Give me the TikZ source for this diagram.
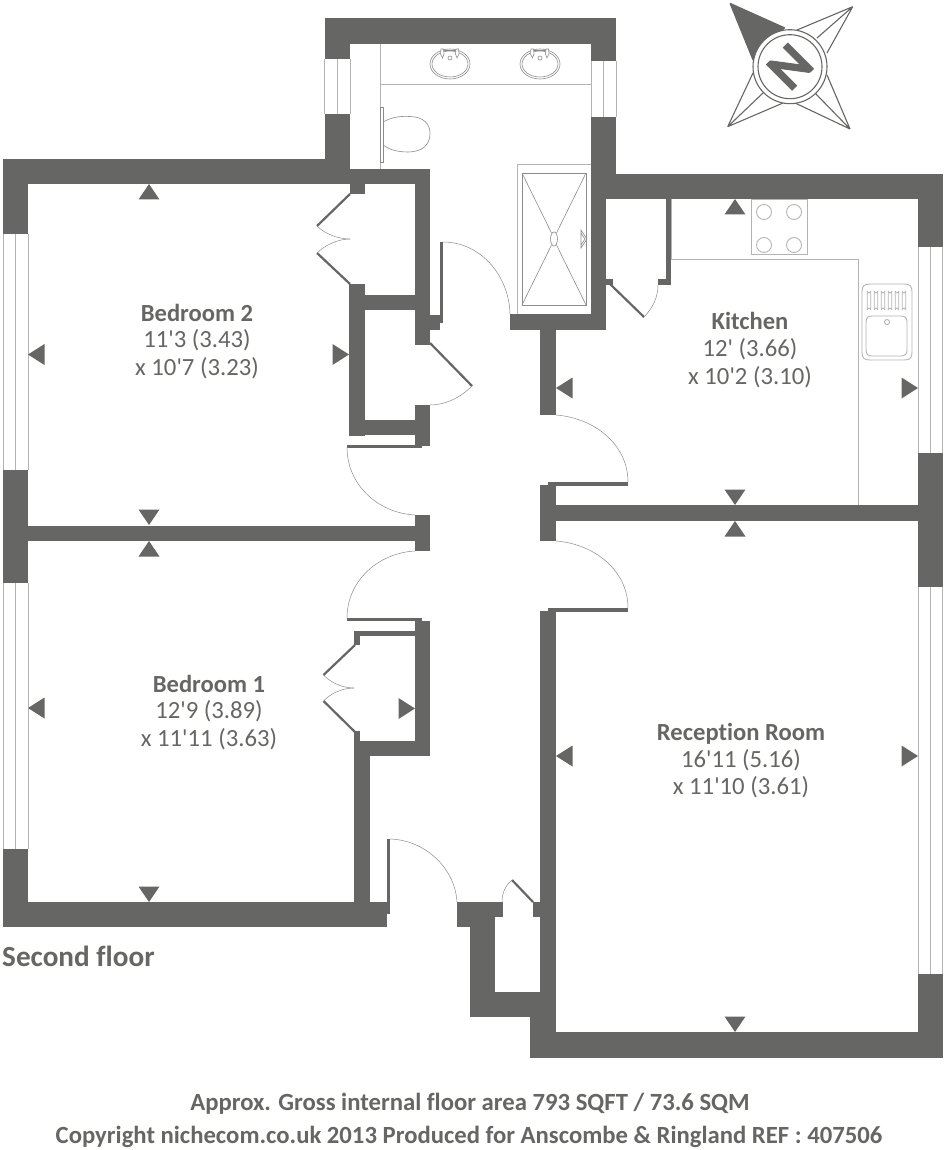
\documentclass[tikz,border=0pt]{standalone}
\usepackage{fontspec}
\setmainfont{Carlito}[Ligatures={TeXOff,NoCommon}]
\newfontfamily\northfont{Carlito}[BoldFeatures={FakeBold=1.5}]
\definecolor{wallc}{HTML}{666664}
\definecolor{thin}{HTML}{B4B4B4}
\definecolor{fix}{HTML}{8C8C8C}
\newcommand{\W}[4]{\fill[wallc] (#1,#2) rectangle (#3,#4);}
\newcommand{\Up}[2]{\fill[wallc] (#1,#2) -- ++(-10.5,15.5) -- ++(21,0) -- cycle;}
\newcommand{\Dn}[2]{\fill[wallc] (#1,#2) -- ++(-10.5,-15.5) -- ++(21,0) -- cycle;}
\newcommand{\Lf}[2]{\fill[wallc] (#1,#2) -- ++(16.5,-10.5) -- ++(0,21) -- cycle;}
\newcommand{\Rt}[2]{\fill[wallc] (#1,#2) -- ++(-16.5,-10.5) -- ++(0,21) -- cycle;}
\newcommand{\Basin}[2]{%
  \draw[fixline] (#1,#2) ellipse (20 and 15);
  \draw[fixline] (#1,#2) ellipse (18 and 13);
  \draw[fixline] (#1-8,#2-14) -- (#1+8,#2-14);
  \draw[fixline,fill=white] (#1-9,#2-15) -- (#1-6.5,#2-15) -- (#1-6,#2-10) -- (#1-7.5,#2-6) -- (#1-9.5,#2-10) -- cycle;
  \draw[fixline,fill=white] (#1+6,#2-15) -- (#1+8.5,#2-15) -- (#1+9,#2-10) -- (#1+7,#2-6) -- (#1+5.5,#2-10) -- cycle;
  \draw[fixline] (#1,#2-6) circle (2);}
\tikzset{
  x=1pt,y=-1pt,
  winline/.style={draw=thin,line width=0.9pt},
  thinline/.style={draw=thin,line width=0.9pt},
  fixline/.style={draw=fix,line width=0.6pt},
  arcline/.style={draw=fix,line width=0.5pt},
  leaf/.style={draw=wallc,line width=2.2pt},
  compass/.style={draw=wallc,line width=1.1pt,line join=round},
  roomtitle/.style={text=wallc,font=\fontsize{24.6}{24.6}\selectfont\bfseries,inner sep=0pt,anchor=base},
  roomtext/.style={text=wallc,font=\fontsize{24.7}{24.7}\selectfont,inner sep=0pt,anchor=base},
  foot/.style={text=wallc,font=\fontsize{24.7}{24.7}\selectfont\bfseries,inner sep=0pt,anchor=base}
}
\begin{document}
\begin{tikzpicture}
\useasboundingbox[fill=white] (0,0) rectangle (946,1150);

% windows
\draw[winline] (3,234) -- (3,470) (15.3,234) -- (15.3,470) (28,234) -- (28,470);
\draw[winline] (3,583) -- (3,849) (15.3,583) -- (15.3,849) (28,583) -- (28,849);
\draw[winline] (918,247) -- (918,453) (930,247) -- (930,453) (942.5,247) -- (942.5,453);
\draw[winline] (918,587) -- (918,974) (930,587) -- (930,974) (942.5,587) -- (942.5,974);
\draw[winline] (324.5,59) -- (324.5,114) (337,59) -- (337,114) (350,59) -- (350,114);
\draw[winline] (591,61) -- (591,117) (603.5,61) -- (603.5,117) (616,61) -- (616,117);

% bathroom fittings
\draw[thinline] (380,44) -- (380,169);
\draw[thinline] (380,84) -- (591,84);
\Basin{450}{64}
\Basin{540}{64}
\draw[fixline] (380,107) rectangle (383,162);
\draw[fixline] (383,122) .. controls (392,117) and (400,116) .. (410,116.5)
  .. controls (424,117) and (430,124) .. (430,133.5)
  .. controls (430,145) and (422,152) .. (408,152)
  .. controls (398,152) and (390,150) .. (383,145);
\draw[thinline] (517,314) -- (517,164) -- (591,164);
\draw[fixline] (522,173) rectangle (586,305);
\draw[fixline] (522,173) -- (551.5,233) (586,173) -- (556.5,233);
\draw[fixline] (522,305) -- (551.5,245) (586,305) -- (556.5,245);
\draw[fixline] (554,239) ellipse (3.5 and 7);
\draw[fixline] (581,230) -- (587,239) -- (581,248) -- cycle (581,233) -- (585,239) -- (581,245);

% kitchen fittings
\draw[thinline] (671,199) -- (671,259) -- (858,259) -- (858,505);
\draw[fill=white,thinline] (751,199) rectangle (807,254);
\foreach \cx/\cy in {764/212,794/212,764/245,794/245}
  \draw[thinline] (\cx,\cy) circle (7.5);
\draw[thinline] (862,292) .. controls (862,286) and (864,284) .. (870,284) -- (904,284)
  .. controls (910,284) and (912,286) .. (912,292) -- (912,352)
  .. controls (912,358) and (910,360) .. (904,360) -- (870,360)
  .. controls (864,360) and (862,358) .. (862,352) -- cycle;
\draw[thinline] (866,322) .. controls (866,318) and (868,316) .. (872,316) -- (901,316)
  .. controls (905,316) and (907,318) .. (907,322) -- (907,350)
  .. controls (907,354) and (905,356) .. (901,356) -- (872,356)
  .. controls (868,356) and (866,354) .. (866,350) -- cycle;
\foreach \sx in {869,876,883,890,897,904}
  \draw[draw=thin,line width=0.7pt] (\sx-1.7,291.5) arc (180:0:1.7) -- (\sx+1.7,309.5) arc (0:-180:1.7) -- cycle;
\draw[thinline] (887,322) circle (2.5);

% walls: outer shell and partitions
\W{3}{159}{350}{184}
\W{3}{159}{28}{234}
\W{3}{470}{28}{583}
\W{3}{849}{28}{927}
\W{3}{902}{387}{927}
\W{28}{525.5}{415}{541}
\W{324.5}{18}{616}{44}
\W{324.5}{18}{350}{59}
\W{324.5}{114}{350}{184}
\W{591}{18}{616}{61}
\W{591}{117}{616}{199}
\W{591}{199}{606}{330}
\W{591}{174}{943}{199}
\W{918}{174}{943}{247}
\W{918}{453}{943}{587}
\W{918}{974}{943}{1057.5}
\W{530}{1032}{943}{1057.5}
\W{510}{314}{606}{330}
\W{540}{330}{556}{415}
\W{540}{485}{556}{541}
\W{548}{482}{556}{486}
\W{556}{505}{918}{520.7}
\W{540}{611}{556}{1057.5}
\W{548}{608}{556}{612}
\W{530}{992}{556}{1057.5}
\W{470}{992}{540}{1017}
\W{470}{902}{495}{1017}
\W{457}{902}{495}{927}
\W{495}{902}{503}{917}
\W{533}{902}{540}{917}
\W{666}{199}{671}{285}
\W{658}{279}{671}{285}
\W{606}{279}{613}{285}
% bedroom 2 cupboards
\W{350}{169}{430}{184}
\W{415}{169}{430}{345}
\W{350}{184}{365}{194}
\W{349}{284}{365}{436}
\W{349}{294.5}{415}{310}
\W{349}{420}{430}{435}
\W{415}{405}{430}{446}
\W{430}{315}{443}{323}
\W{430}{323}{440}{330}
\W{415}{515}{430}{551}
% bedroom 1 cupboard
\W{415}{620.5}{430}{756}
\W{354}{741}{430}{756}
\W{354}{741}{370}{902}
\W{354}{630.7}{415}{636}
\W{354}{630.7}{360}{645}
\W{354}{731}{360}{741}
\W{387}{902}{390}{914}

% straight door leaves
\W{440}{242}{443}{323}
\W{347}{445}{422}{448}
\W{347}{618}{422}{621}
\W{548}{482}{628}{485.5}
\W{548}{608}{628}{611.7}
\W{387}{839}{390}{913}
\draw[leaf] (350,194) -- (317,226);
\draw[leaf] (350,284) -- (317,253);
\draw[leaf] (430,343) -- (472,386);
\draw[leaf] (355,645) -- (323.5,675);
\draw[leaf] (355,732) -- (323.5,701);
\draw[leaf] (533,902) -- (512,880);
\draw[leaf] (610,284) -- (644,317);

% door swings
\draw[arcline] (443,242) .. controls (480,242) and (509,275) .. (510,314);
\draw[arcline] (556,415) .. controls (595,418) and (628,445) .. (628,482);
\draw[arcline] (556,541) .. controls (595,544) and (628,571) .. (628,608);
\draw[arcline] (347,447) .. controls (347,485) and (378,513) .. (415,515);
\draw[arcline] (415,551) .. controls (378,553) and (347,581) .. (347,618);
\draw[arcline] (390,839) .. controls (425,840) and (455,868) .. (457,902);
\draw[arcline] (472,386) .. controls (460,398) and (445,405) .. (430,405);
\draw[arcline] (644,317) .. controls (652,309) and (658,298) .. (658,285);
\draw[arcline] (512,880) .. controls (506,885) and (502,892) .. (502,902);
\draw[arcline] (317,226) .. controls (325,234) and (338,239) .. (350,239);
\draw[arcline] (317,253) .. controls (325,245) and (338,239) .. (350,239);
\draw[arcline] (323.5,675) .. controls (331,683) and (343,688) .. (354,688);
\draw[arcline] (323.5,701) .. controls (331,693) and (343,688) .. (354,688);

% dimension markers
\Up{149}{184} \Dn{149}{525} \Lf{28}{354.5} \Rt{349}{354.5}
\Up{149}{541} \Dn{149}{902} \Lf{28}{708} \Rt{415}{708.5}
\Up{735}{199} \Dn{735}{505} \Lf{556}{388} \Rt{918}{388}
\Up{735}{521} \Dn{735}{1032} \Lf{556}{756} \Rt{918}{756}

% compass
\fill[wallc] (730,3.3) -- (785,28) -- (753,60) -- cycle;
\draw[compass] (730,3.3) -- (785,28) (730,3.3) -- (753,60);
\draw[compass] (852.7,6.7) -- (797,30) (852.7,6.7) -- (827,53) (852.7,6.7) -- (817,38);
\draw[compass] (850,129) -- (827,75) (850,129) -- (795,103) (850,129) -- (815,93);
\draw[compass] (727.7,126.7) -- (753,73) (727.7,126.7) -- (783,103) (727.7,126.7) -- (763,93);
\draw[compass,fill=white] (790,66.7) circle (37);
\draw[compass] (790,66.7) circle (32);
\node[text=wallc,font=\fontsize{56}{56}\northfont\bfseries,rotate=45,inner sep=0pt] (north) at (790,66.7) {N};

% labels
\node[roomtitle] (b2) at (197,321) {Bedroom 2};
\node[roomtext] (b2a) at (197,347) {11'3 (3.43)};
\node[roomtext] (b2b) at (197,375) {x 10'7 (3.23)};
\node[roomtitle] (k) at (750,329) {Kitchen};
\node[roomtext] (ka) at (750,356) {12' (3.66)};
\node[roomtext] (kb) at (750,384) {x 10'2 (3.10)};
\node[roomtitle] (b1) at (209,692) {Bedroom 1};
\node[roomtext] (b1a) at (209,718) {12'9 (3.89)};
\node[roomtext] (b1b) at (209,746) {x 11'11 (3.63)};
\node[roomtitle] (r) at (741,740) {Reception Room};
\node[roomtext] (ra) at (741,767) {16'11 (5.16)};
\node[roomtext] (rb) at (741,794) {x 11'10 (3.61)};
\node[text=wallc,font=\fontsize{29.2}{29.2}\selectfont\bfseries,inner sep=0pt,anchor=base west] (floor) at (2,966) {Second floor};
\node[foot] (f1) at (470,1110) {Approx. Gross internal floor area 793 SQFT / 73.6 SQM};
\node[foot] (f2) at (469,1143) {Copyright nichecom.co.uk 2013 Produced for Anscombe \& Ringland REF : 407506};
\end{tikzpicture}
\end{document}
